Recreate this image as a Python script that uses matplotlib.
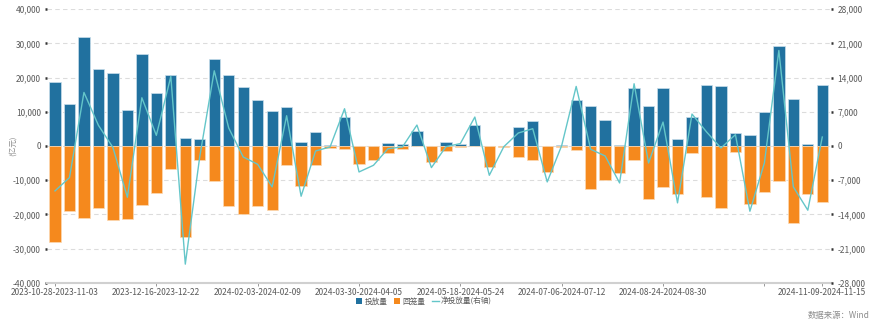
import matplotlib
matplotlib.use("Agg")
import matplotlib.pyplot as plt
from matplotlib.lines import Line2D
from matplotlib.patches import Patch
import numpy as np
import pandas as pd

plt.rcParams['font.family'] = ['Noto Sans CJK SC', 'DejaVu Sans']

# week starts (Spring Festival week 2024-02-10 is absent in the source)
week_starts = pd.date_range("2023-10-28", "2024-11-09", freq="7D")
week_starts = week_starts[week_starts != pd.Timestamp("2024-02-10")]
week_labels = [f"{d:%Y-%m-%d}-{d + pd.Timedelta(days=6):%Y-%m-%d}" for d in week_starts]

# 投放量 (亿元)
injection = [18800, 12270, 31940, 22400, 21230, 10610, 26970, 15580, 20840, 2340,
             2040, 25410, 20840, 17230, 13530, 10220, 11490, 1170, 4090, 300,
             8370, 0, 0, 970, 680, 4280, 0, 1270, 680, 6040,
             0, 0, 5650, 7400, 0, 200, 13440, 11590, 7690, 200,
             16940, 11780, 16840, 1950, 8570, 17720, 17430, 3890, 3310, 9830,
             29400, 13830, 680, 17720]
# 回笼量 (亿元)
withdrawal = [-28200, -19000, -20930, -18100, -21710, -21420, -17230, -13630, -6820, -26580,
              -4190, -10130, -17430, -19770, -17430, -18790, -5450, -11680, -5450, -600,
              -780, -5360, -4090, -1950, -880, 0, -4580, -1460, -290, 0,
              -6130, -200, -3210, -3990, -7590, -200, -1170, -12560, -9830, -7790,
              -4190, -15380, -11980, -13920, -2140, -14800, -18010, -1650, -16940, -13530,
              -10130, -22490, -13920, -16260]
# 净投放量 (右轴, 亿元)
net = [-9200, -6475, 10970, 4230, -300, -10500, 9880, 2180, 14250, -24200,
       -2150, 15400, 3680, -2250, -3750, -8380, 6200, -10290, -1020, -200,
       7630, -5320, -3950, -550, -200, 4290, -4430, -150, 500, 5930,
       -6000, -150, 2660, 3540, -7360, 100, 12200, -680, -2040, -7570,
       12750, -3480, 4900, -11650, 6540, 2900, -410, 2320, -13360, -3480,
       19560, -8380, -13150, 1840]

label_idx = [0, 7, 14, 21, 28, 35, 42, 53]
tick_idx = [0, 7, 14, 21, 28, 35, 42, 49, 53]

blue = '#21719f'
orange = '#f5891d'
teal = '#64c6c9'
txt = '#595959'

fig = plt.figure(figsize=(8.76, 3.27), dpi=100)
ax = fig.add_axes([0.0537, 0.1355, 0.8949, 0.8361])
ax2 = ax.twinx()

x = np.arange(len(week_labels))
ax.bar(x, injection, width=0.78, color=blue, edgecolor='#c9dfeb', linewidth=0.5, zorder=3)
ax.bar(x, withdrawal, width=0.78, color=orange, edgecolor='#fcd9b3', linewidth=0.5, zorder=3)
ax2.plot(x, net, color=teal, linewidth=1.0, zorder=4)

ax.set_xlim(-0.55, 53.6)
ax.set_ylim(-40000, 40000)
ax2.set_ylim(-28000, 28000)
ax.set_yticks(np.arange(-40000, 40001, 10000))
ax2.set_yticks(np.arange(-28000, 28001, 7000))
ax.set_yticklabels([f"{v:,}" for v in range(-40000, 40001, 10000)])
ax2.set_yticklabels([f"{v:,}" for v in range(-28000, 28001, 7000)])

ax.grid(axis='y', color='#dcdcdc', linestyle=(0, (4, 3)), linewidth=0.8, zorder=0)
ax.set_axisbelow(True)

for a in (ax, ax2):
    for s in ('top', 'left', 'right'):
        a.spines[s].set_visible(False)
    a.spines['bottom'].set_color('#d0d0d0')
    a.spines['bottom'].set_linewidth(1.5)
ax2.spines['bottom'].set_visible(False)

ax.tick_params(axis='y', length=1.5, width=1.8, color='#333333', pad=3, labelsize=6, labelcolor=txt)
ax2.tick_params(axis='y', length=1.5, width=1.8, color='#333333', pad=3, labelsize=6, labelcolor=txt)

ax.set_xticks(tick_idx)
ax.set_xticklabels([week_labels[i] if i in label_idx else "" for i in tick_idx])
ax.tick_params(axis='x', length=2, width=0.6, color='#888888', labelsize=6, labelcolor=txt, pad=2)

# unit label sits beside the zero line, between the tick labels
fig.text(0.015, 0.553, "(亿元)", rotation=90, fontsize=5.5, color='#8c8c8c', va='center', ha='center')

handles = [Patch(facecolor=blue, edgecolor='none'),
           Patch(facecolor=orange, edgecolor='none'),
           Line2D([0], [0], color=teal, linewidth=1.0)]
fig.legend(handles, ["投放量", "回笼量", "净投放量(右轴)"], loc='center', bbox_to_anchor=(0.484, 0.077),
           ncol=3, frameon=False, fontsize=5.5, handlelength=0.8, handleheight=0.8,
           handletextpad=0.3, columnspacing=0.9, labelcolor=txt)

fig.text(0.993, 0.035, "数据来源：Wind", fontsize=6, color='#8c8c8c', ha='right', va='center')

fig.savefig("out.png", dpi=100)
